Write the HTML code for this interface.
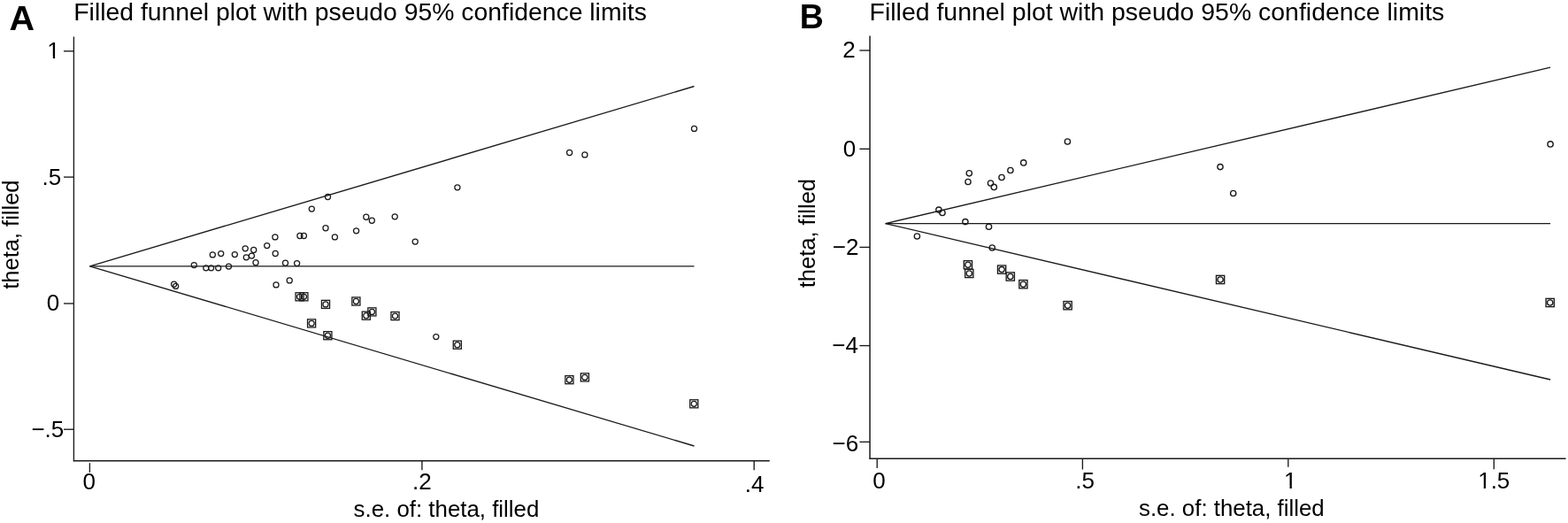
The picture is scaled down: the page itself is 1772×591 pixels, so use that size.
<!DOCTYPE html>
<html><head><meta charset="utf-8"><title>Filled funnel plots</title>
<style>
html,body{margin:0;padding:0;background:#fff;}
body{width:1772px;height:591px;overflow:hidden;}
svg{display:block;}
text{font-family:'Liberation Sans', Arial, Helvetica, sans-serif;fill:#000;}
</style></head>
<body>
<svg width="1772" height="591" viewBox="0 0 1772 591">
<defs><clipPath id="c1" clipPathUnits="userSpaceOnUse"><rect x="48.30" y="36.00" width="60" height="27.26"/><rect x="59.84" y="36.00" width="2.30" height="32"/><rect x="67.50" y="36.00" width="60" height="34"/></clipPath><clipPath id="c2" clipPathUnits="userSpaceOnUse"><rect x="1446.00" y="522.30" width="60" height="27.26"/><rect x="1457.54" y="522.30" width="2.30" height="32"/><rect x="1465.20" y="522.30" width="60" height="34"/></clipPath><clipPath id="c3" clipPathUnits="userSpaceOnUse"><rect x="1665.20" y="522.30" width="60" height="27.26"/><rect x="1676.74" y="522.30" width="2.30" height="32"/><rect x="1684.40" y="522.30" width="60" height="34"/></clipPath></defs>
<rect x="0" y="0" width="1772" height="591" fill="#fff"/>
<line x1="83.4" y1="42.0" x2="83.4" y2="520.7" stroke="#1a1a1a" stroke-width="1.35" stroke-linecap="round"/>
<line x1="83.4" y1="520.7" x2="869.3" y2="520.7" stroke="#1a1a1a" stroke-width="1.35" stroke-linecap="round"/>
<line x1="72.0" y1="57.8" x2="83.4" y2="57.8" stroke="#1a1a1a" stroke-width="1.35"/>
<line x1="72.0" y1="200.1" x2="83.4" y2="200.1" stroke="#1a1a1a" stroke-width="1.35"/>
<line x1="72.0" y1="343.0" x2="83.4" y2="343.0" stroke="#1a1a1a" stroke-width="1.35"/>
<line x1="72.0" y1="485.2" x2="83.4" y2="485.2" stroke="#1a1a1a" stroke-width="1.35"/>
<line x1="101.4" y1="523.2" x2="101.4" y2="533.9" stroke="#1a1a1a" stroke-width="1.35"/>
<line x1="476.9" y1="520.7" x2="476.9" y2="531.3" stroke="#1a1a1a" stroke-width="1.35"/>
<line x1="852.2" y1="520.7" x2="852.2" y2="531.2" stroke="#1a1a1a" stroke-width="1.35"/>
<line x1="101.5" y1="300.8" x2="784.5" y2="97.5" stroke="#1a1a1a" stroke-width="1.35"/>
<line x1="101.5" y1="300.8" x2="784.5" y2="300.8" stroke="#1a1a1a" stroke-width="1.35"/>
<line x1="101.5" y1="300.8" x2="784.5" y2="504.0" stroke="#1a1a1a" stroke-width="1.35"/>
<circle cx="196.6" cy="321.2" r="3.05" fill="none" stroke="#1a1a1a" stroke-width="1.25"/>
<circle cx="198.6" cy="323.4" r="3.05" fill="none" stroke="#1a1a1a" stroke-width="1.25"/>
<circle cx="219.3" cy="299.6" r="3.05" fill="none" stroke="#1a1a1a" stroke-width="1.25"/>
<circle cx="232.8" cy="302.8" r="3.05" fill="none" stroke="#1a1a1a" stroke-width="1.25"/>
<circle cx="238.6" cy="302.8" r="3.05" fill="none" stroke="#1a1a1a" stroke-width="1.25"/>
<circle cx="246.7" cy="302.8" r="3.05" fill="none" stroke="#1a1a1a" stroke-width="1.25"/>
<circle cx="240.3" cy="287.9" r="3.05" fill="none" stroke="#1a1a1a" stroke-width="1.25"/>
<circle cx="249.7" cy="286.6" r="3.05" fill="none" stroke="#1a1a1a" stroke-width="1.25"/>
<circle cx="258.5" cy="301.1" r="3.05" fill="none" stroke="#1a1a1a" stroke-width="1.25"/>
<circle cx="265.3" cy="287.6" r="3.05" fill="none" stroke="#1a1a1a" stroke-width="1.25"/>
<circle cx="277.2" cy="280.8" r="3.05" fill="none" stroke="#1a1a1a" stroke-width="1.25"/>
<circle cx="286.7" cy="282.5" r="3.05" fill="none" stroke="#1a1a1a" stroke-width="1.25"/>
<circle cx="278.3" cy="290.8" r="3.05" fill="none" stroke="#1a1a1a" stroke-width="1.25"/>
<circle cx="284.4" cy="289.1" r="3.05" fill="none" stroke="#1a1a1a" stroke-width="1.25"/>
<circle cx="289.0" cy="296.7" r="3.05" fill="none" stroke="#1a1a1a" stroke-width="1.25"/>
<circle cx="301.7" cy="277.6" r="3.05" fill="none" stroke="#1a1a1a" stroke-width="1.25"/>
<circle cx="310.9" cy="267.9" r="3.05" fill="none" stroke="#1a1a1a" stroke-width="1.25"/>
<circle cx="311.2" cy="286.5" r="3.05" fill="none" stroke="#1a1a1a" stroke-width="1.25"/>
<circle cx="322.5" cy="297.2" r="3.05" fill="none" stroke="#1a1a1a" stroke-width="1.25"/>
<circle cx="327.2" cy="316.9" r="3.05" fill="none" stroke="#1a1a1a" stroke-width="1.25"/>
<circle cx="312.0" cy="321.9" r="3.05" fill="none" stroke="#1a1a1a" stroke-width="1.25"/>
<circle cx="335.6" cy="297.6" r="3.05" fill="none" stroke="#1a1a1a" stroke-width="1.25"/>
<circle cx="338.9" cy="266.5" r="3.05" fill="none" stroke="#1a1a1a" stroke-width="1.25"/>
<circle cx="343.4" cy="266.5" r="3.05" fill="none" stroke="#1a1a1a" stroke-width="1.25"/>
<circle cx="352.3" cy="236.1" r="3.05" fill="none" stroke="#1a1a1a" stroke-width="1.25"/>
<circle cx="368.0" cy="257.8" r="3.05" fill="none" stroke="#1a1a1a" stroke-width="1.25"/>
<circle cx="370.5" cy="222.5" r="3.05" fill="none" stroke="#1a1a1a" stroke-width="1.25"/>
<circle cx="378.4" cy="267.9" r="3.05" fill="none" stroke="#1a1a1a" stroke-width="1.25"/>
<circle cx="402.6" cy="260.8" r="3.05" fill="none" stroke="#1a1a1a" stroke-width="1.25"/>
<circle cx="413.8" cy="245.2" r="3.05" fill="none" stroke="#1a1a1a" stroke-width="1.25"/>
<circle cx="420.3" cy="249.2" r="3.05" fill="none" stroke="#1a1a1a" stroke-width="1.25"/>
<circle cx="446.2" cy="244.8" r="3.05" fill="none" stroke="#1a1a1a" stroke-width="1.25"/>
<circle cx="469.2" cy="273.1" r="3.05" fill="none" stroke="#1a1a1a" stroke-width="1.25"/>
<circle cx="492.8" cy="380.6" r="3.05" fill="none" stroke="#1a1a1a" stroke-width="1.25"/>
<circle cx="516.9" cy="211.8" r="3.05" fill="none" stroke="#1a1a1a" stroke-width="1.25"/>
<circle cx="643.6" cy="172.5" r="3.05" fill="none" stroke="#1a1a1a" stroke-width="1.25"/>
<circle cx="660.9" cy="174.9" r="3.05" fill="none" stroke="#1a1a1a" stroke-width="1.25"/>
<circle cx="784.5" cy="145.4" r="3.05" fill="none" stroke="#1a1a1a" stroke-width="1.25"/>
<rect x="334.05" y="330.75" width="9.1" height="9.1" fill="none" stroke="#1a1a1a" stroke-width="1.3"/>
<circle cx="338.6" cy="335.3" r="3.05" fill="none" stroke="#1a1a1a" stroke-width="1.25"/>
<rect x="338.85" y="330.75" width="9.1" height="9.1" fill="none" stroke="#1a1a1a" stroke-width="1.3"/>
<circle cx="343.4" cy="335.3" r="3.05" fill="none" stroke="#1a1a1a" stroke-width="1.25"/>
<rect x="347.55" y="360.85" width="9.1" height="9.1" fill="none" stroke="#1a1a1a" stroke-width="1.3"/>
<circle cx="352.1" cy="365.4" r="3.05" fill="none" stroke="#1a1a1a" stroke-width="1.25"/>
<rect x="363.45" y="339.35" width="9.1" height="9.1" fill="none" stroke="#1a1a1a" stroke-width="1.3"/>
<circle cx="368.0" cy="343.9" r="3.05" fill="none" stroke="#1a1a1a" stroke-width="1.25"/>
<rect x="365.85" y="374.65" width="9.1" height="9.1" fill="none" stroke="#1a1a1a" stroke-width="1.3"/>
<circle cx="370.4" cy="379.2" r="3.05" fill="none" stroke="#1a1a1a" stroke-width="1.25"/>
<rect x="397.85" y="335.95" width="9.1" height="9.1" fill="none" stroke="#1a1a1a" stroke-width="1.3"/>
<circle cx="402.4" cy="340.5" r="3.05" fill="none" stroke="#1a1a1a" stroke-width="1.25"/>
<rect x="409.25" y="352.15" width="9.1" height="9.1" fill="none" stroke="#1a1a1a" stroke-width="1.3"/>
<circle cx="413.8" cy="356.7" r="3.05" fill="none" stroke="#1a1a1a" stroke-width="1.25"/>
<rect x="415.85" y="347.85" width="9.1" height="9.1" fill="none" stroke="#1a1a1a" stroke-width="1.3"/>
<circle cx="420.4" cy="352.4" r="3.05" fill="none" stroke="#1a1a1a" stroke-width="1.25"/>
<rect x="441.95" y="352.55" width="9.1" height="9.1" fill="none" stroke="#1a1a1a" stroke-width="1.3"/>
<circle cx="446.5" cy="357.1" r="3.05" fill="none" stroke="#1a1a1a" stroke-width="1.25"/>
<rect x="512.25" y="385.15" width="9.1" height="9.1" fill="none" stroke="#1a1a1a" stroke-width="1.3"/>
<circle cx="516.8" cy="389.7" r="3.05" fill="none" stroke="#1a1a1a" stroke-width="1.25"/>
<rect x="638.85" y="424.65" width="9.1" height="9.1" fill="none" stroke="#1a1a1a" stroke-width="1.3"/>
<circle cx="643.4" cy="429.2" r="3.05" fill="none" stroke="#1a1a1a" stroke-width="1.25"/>
<rect x="656.35" y="421.85" width="9.1" height="9.1" fill="none" stroke="#1a1a1a" stroke-width="1.3"/>
<circle cx="660.9" cy="426.4" r="3.05" fill="none" stroke="#1a1a1a" stroke-width="1.25"/>
<rect x="779.75" y="451.75" width="9.1" height="9.1" fill="none" stroke="#1a1a1a" stroke-width="1.3"/>
<circle cx="784.3" cy="456.3" r="3.05" fill="none" stroke="#1a1a1a" stroke-width="1.25"/>
<line x1="983.05" y1="41.1" x2="983.05" y2="518.35" stroke="#1a1a1a" stroke-width="1.5" stroke-linecap="round"/>
<line x1="983.05" y1="518.35" x2="1769.0" y2="518.35" stroke="#1a1a1a" stroke-width="1.5" stroke-linecap="round"/>
<line x1="971.4" y1="57.0" x2="983.05" y2="57.0" stroke="#1a1a1a" stroke-width="1.35"/>
<line x1="971.4" y1="168.3" x2="983.05" y2="168.3" stroke="#1a1a1a" stroke-width="1.35"/>
<line x1="971.4" y1="279.4" x2="983.05" y2="279.4" stroke="#1a1a1a" stroke-width="1.35"/>
<line x1="971.4" y1="390.6" x2="983.05" y2="390.6" stroke="#1a1a1a" stroke-width="1.35"/>
<line x1="971.4" y1="499.4" x2="983.05" y2="499.4" stroke="#1a1a1a" stroke-width="1.35"/>
<line x1="991.2" y1="518.35" x2="991.2" y2="528.9" stroke="#1a1a1a" stroke-width="1.35"/>
<line x1="1223.4" y1="518.35" x2="1223.4" y2="530.5" stroke="#1a1a1a" stroke-width="1.35"/>
<line x1="1455.8" y1="518.35" x2="1455.8" y2="527.7" stroke="#1a1a1a" stroke-width="1.35"/>
<line x1="1688.3" y1="518.35" x2="1688.3" y2="530.3" stroke="#1a1a1a" stroke-width="1.35"/>
<line x1="1000.7" y1="252.55" x2="1752.1" y2="76.2" stroke="#1a1a1a" stroke-width="1.35"/>
<line x1="1000.7" y1="252.55" x2="1752.1" y2="252.55" stroke="#1a1a1a" stroke-width="1.35"/>
<line x1="1000.7" y1="252.55" x2="1752.1" y2="429.0" stroke="#1a1a1a" stroke-width="1.35"/>
<circle cx="1036.4" cy="267.0" r="3.15" fill="none" stroke="#1a1a1a" stroke-width="1.35"/>
<circle cx="1060.9" cy="237.1" r="3.15" fill="none" stroke="#1a1a1a" stroke-width="1.35"/>
<circle cx="1065.0" cy="240.5" r="3.15" fill="none" stroke="#1a1a1a" stroke-width="1.35"/>
<circle cx="1090.9" cy="250.6" r="3.15" fill="none" stroke="#1a1a1a" stroke-width="1.35"/>
<circle cx="1117.5" cy="256.2" r="3.15" fill="none" stroke="#1a1a1a" stroke-width="1.35"/>
<circle cx="1121.3" cy="280.0" r="3.15" fill="none" stroke="#1a1a1a" stroke-width="1.35"/>
<circle cx="1094.0" cy="205.5" r="3.15" fill="none" stroke="#1a1a1a" stroke-width="1.35"/>
<circle cx="1095.3" cy="195.8" r="3.15" fill="none" stroke="#1a1a1a" stroke-width="1.35"/>
<circle cx="1119.5" cy="207.0" r="3.15" fill="none" stroke="#1a1a1a" stroke-width="1.35"/>
<circle cx="1123.3" cy="211.4" r="3.15" fill="none" stroke="#1a1a1a" stroke-width="1.35"/>
<circle cx="1132.0" cy="200.5" r="3.15" fill="none" stroke="#1a1a1a" stroke-width="1.35"/>
<circle cx="1141.9" cy="192.5" r="3.15" fill="none" stroke="#1a1a1a" stroke-width="1.35"/>
<circle cx="1156.7" cy="183.9" r="3.15" fill="none" stroke="#1a1a1a" stroke-width="1.35"/>
<circle cx="1206.4" cy="160.0" r="3.15" fill="none" stroke="#1a1a1a" stroke-width="1.35"/>
<circle cx="1379.0" cy="188.6" r="3.15" fill="none" stroke="#1a1a1a" stroke-width="1.35"/>
<circle cx="1393.7" cy="218.5" r="3.15" fill="none" stroke="#1a1a1a" stroke-width="1.35"/>
<circle cx="1752.1" cy="162.9" r="3.15" fill="none" stroke="#1a1a1a" stroke-width="1.35"/>
<rect x="1089.28" y="294.68" width="9.25" height="9.25" fill="none" stroke="#1a1a1a" stroke-width="1.35"/>
<circle cx="1093.9" cy="299.3" r="3.15" fill="none" stroke="#1a1a1a" stroke-width="1.35"/>
<rect x="1090.67" y="304.38" width="9.25" height="9.25" fill="none" stroke="#1a1a1a" stroke-width="1.35"/>
<circle cx="1095.3" cy="309.0" r="3.15" fill="none" stroke="#1a1a1a" stroke-width="1.35"/>
<rect x="1127.47" y="299.98" width="9.25" height="9.25" fill="none" stroke="#1a1a1a" stroke-width="1.35"/>
<circle cx="1132.1" cy="304.6" r="3.15" fill="none" stroke="#1a1a1a" stroke-width="1.35"/>
<rect x="1137.17" y="307.88" width="9.25" height="9.25" fill="none" stroke="#1a1a1a" stroke-width="1.35"/>
<circle cx="1141.8" cy="312.5" r="3.15" fill="none" stroke="#1a1a1a" stroke-width="1.35"/>
<rect x="1151.78" y="316.57" width="9.25" height="9.25" fill="none" stroke="#1a1a1a" stroke-width="1.35"/>
<circle cx="1156.4" cy="321.2" r="3.15" fill="none" stroke="#1a1a1a" stroke-width="1.35"/>
<rect x="1201.97" y="340.57" width="9.25" height="9.25" fill="none" stroke="#1a1a1a" stroke-width="1.35"/>
<circle cx="1206.6" cy="345.2" r="3.15" fill="none" stroke="#1a1a1a" stroke-width="1.35"/>
<rect x="1374.47" y="311.38" width="9.25" height="9.25" fill="none" stroke="#1a1a1a" stroke-width="1.35"/>
<circle cx="1379.1" cy="316.0" r="3.15" fill="none" stroke="#1a1a1a" stroke-width="1.35"/>
<rect x="1747.08" y="337.38" width="9.25" height="9.25" fill="none" stroke="#1a1a1a" stroke-width="1.35"/>
<circle cx="1751.7" cy="342.0" r="3.15" fill="none" stroke="#1a1a1a" stroke-width="1.35"/>
<text x="83.3" y="23.2" font-size="28.35" text-anchor="start" font-weight="normal" >Filled funnel plot with pseudo 95% confidence limits</text>
<text x="982.6" y="22.8" font-size="28.45" text-anchor="start" font-weight="normal" >Filled funnel plot with pseudo 95% confidence limits</text>
<text x="10.6" y="33.9" font-size="39.5" text-anchor="start" font-weight="bold" >A</text>
<text x="0" y="0" font-size="39.5" text-anchor="start" font-weight="bold" transform="translate(903.7 32.1) scale(0.95 1)">B</text>
<text x="399.6" y="584.0" font-size="25.85" text-anchor="start" font-weight="normal" >s.e. of: theta, filled</text>
<text x="1287.0" y="583.3" font-size="25.85" text-anchor="start" font-weight="normal" >s.e. of: theta, filled</text>
<text x="0" y="0" font-size="25.5" text-anchor="start" font-weight="normal" transform="translate(21.0 326.8) rotate(-90)">theta, filled</text>
<text x="0" y="0" font-size="25.5" text-anchor="start" font-weight="normal" transform="translate(920.7 325.3) rotate(-90)">theta, filled</text>
<text x="69.29" y="209.0" font-size="26" text-anchor="end" font-weight="normal" >.5</text>
<text x="67.12" y="351.0" font-size="26" text-anchor="end" font-weight="normal" >0</text>
<text x="72.29" y="494.0" font-size="26" text-anchor="end" font-weight="normal" >−.5</text>
<text x="966.61" y="65.4" font-size="26" text-anchor="end" font-weight="normal" >2</text>
<text x="967.12" y="176.7" font-size="26" text-anchor="end" font-weight="normal" >0</text>
<text x="970.41" y="287.8" font-size="26" text-anchor="end" font-weight="normal" >−2</text>
<text x="969.86" y="398.7" font-size="26" text-anchor="end" font-weight="normal" >−4</text>
<text x="970.24" y="510.0" font-size="26" text-anchor="end" font-weight="normal" >−6</text>
<text x="93.58" y="553.2" font-size="26" text-anchor="start" font-weight="normal" >0</text>
<text x="466.03" y="553.4" font-size="26" text-anchor="start" font-weight="normal" >.2</text>
<text x="841.83" y="555.9" font-size="26" text-anchor="start" font-weight="normal" >.4</text>
<text x="986.18" y="552.2" font-size="26" text-anchor="start" font-weight="normal" >0</text>
<text x="1215.33" y="552.2" font-size="26" text-anchor="start" font-weight="normal" >.5</text>
<text x="53.30" y="66.0" font-size="26" clip-path="url(#c1)">1</text>
<text x="1451.00" y="552.3" font-size="26" clip-path="url(#c2)">1</text>
<text x="1670.20" y="552.3" font-size="26" clip-path="url(#c3)">1.5</text>
</svg>
</body></html>
